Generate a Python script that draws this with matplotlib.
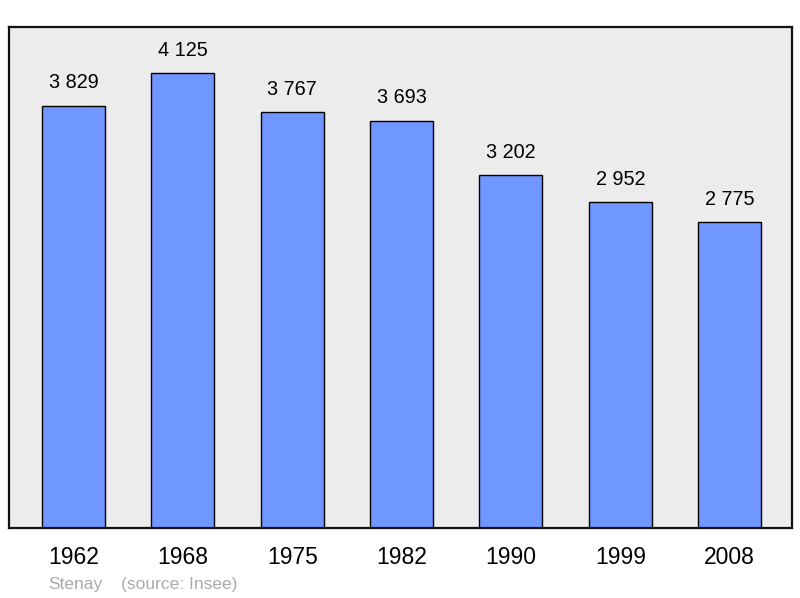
import matplotlib.pyplot as plt

# data
years = ['1962', '1968', '1975', '1982', '1990', '1999', '2008']
population = [3829, 4125, 3767, 3693, 3202, 2952, 2775]

plt.rcParams['font.family'] = ['Liberation Sans', 'DejaVu Sans']

fig = plt.figure(figsize=(8, 5.98), dpi=100)
ax = fig.add_axes([9 / 800, 70 / 598, 783 / 800, 501 / 598])
ax.set_facecolor('#ececec')

x = list(range(len(years)))
bars = ax.bar(x, population, width=0.576, color='#7096ff', edgecolor='black', linewidth=1.0)

for xi, v in zip(x, population):
    label = f'{v:,}'.replace(',', ' ')
    ax.annotate(label, (xi, v), xytext=(0, 9.5), textcoords='offset points',
                ha='center', va='bottom', fontsize=14.3)

ax.set_xlim(-0.59, 6.57)
ax.set_ylim(0, 4542)
ax.set_xticks(x)
ax.set_xticklabels(years, fontsize=16.5)
ax.tick_params(axis='x', length=0, pad=13)
ax.set_yticks([])
for s in ax.spines.values():
    s.set_linewidth(1.6)
    s.set_color('#111111')

fig.text(48 / 800, 1 - 584 / 598, 'Stenay', color='#aaaaaa', fontsize=12.5, va='center')
fig.text(121 / 800, 1 - 584 / 598, '(source: Insee)', color='#aaaaaa', fontsize=12.5, va='center')

plt.savefig('out.png', dpi=100)
